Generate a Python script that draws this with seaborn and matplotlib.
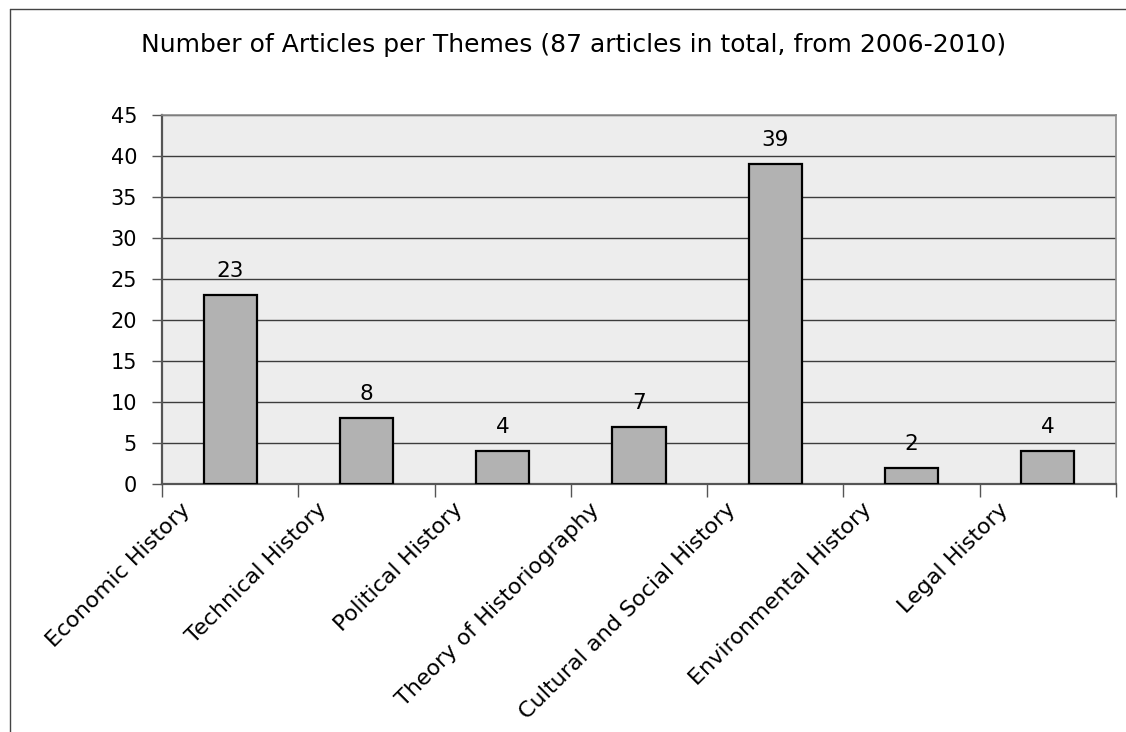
import matplotlib
matplotlib.use("Agg")
import matplotlib.pyplot as plt
from matplotlib.lines import Line2D
from matplotlib.transforms import ScaledTranslation
import seaborn as sns
import pandas as pd

themes = ["Economic History", "Technical History", "Political History",
          "Theory of Historiography", "Cultural and Social History",
          "Environmental History", "Legal History"]
articles = [23, 8, 4, 7, 39, 2, 4]
y_ticks = [0, 5, 10, 15, 20, 25, 30, 35, 40, 45]
title = "Number of Articles per Themes (87 articles in total, from 2006-2010)"

sns.set_theme(style="white")
plt.rcParams["font.family"] = ["DejaVu Sans"]
plt.rcParams["text.color"] = "black"

df = pd.DataFrame({"theme": themes, "articles": articles})

fig = plt.figure(figsize=(11.26, 7.32), dpi=100)
fig.patch.set_facecolor("white")
ax = fig.add_axes([162 / 1126, 1 - 484 / 732, 954 / 1126, 369 / 732])
ax.set_facecolor("#EDEDED")

sns.barplot(data=df, x="theme", y="articles", ax=ax, color="#B2B2B2",
            edgecolor="black", linewidth=1.6, width=0.39, saturation=1,
            zorder=3)

ax.set_ylim(0, 45)
ax.set_xlim(-0.5, len(themes) - 0.5)
ax.set_yticks(y_ticks)
ax.yaxis.grid(True, color="#3C3C3C", linewidth=1.0, zorder=0)
ax.set_axisbelow(True)
ax.set_xlabel("")
ax.set_ylabel("")

# category ticks sit between bars, labels at the bar centres
ax.set_xticks([i - 0.5 for i in range(len(themes) + 1)], minor=False)
ax.set_xticklabels([""] * (len(themes) + 1))
ax.set_xticks(range(len(themes)), minor=True)
ax.set_xticklabels(themes, minor=True, rotation=45, ha="right", va="top",
                   fontsize=16)
ax.tick_params(axis="x", which="major", direction="out", length=9,
               width=1.0, color="#555555", bottom=True)
ax.tick_params(axis="x", which="minor", length=0, pad=11,
               labelcolor="black")
ax.tick_params(axis="y", direction="out", length=7, width=1.0,
               color="#555555", left=True, labelsize=15, pad=11,
               labelcolor="black")

shift = ScaledTranslation(-36 / 100, 0, fig.dpi_scale_trans)
for lbl in ax.xaxis.get_minorticklabels():
    lbl.set_transform(lbl.get_transform() + shift)

for side in ("top", "right"):
    ax.spines[side].set_color("#8C8C8C")
    ax.spines[side].set_linewidth(1.2)
ax.spines["left"].set_color("#555555")
ax.spines["left"].set_linewidth(1.6)
ax.spines["bottom"].set_color("#555555")
ax.spines["bottom"].set_linewidth(1.6)

for i, v in enumerate(articles):
    ax.annotate(str(v), (i, v), xytext=(0, 13), textcoords="offset points",
                ha="center", va="baseline", fontsize=15.5, color="black")

fig.text(574 / 1126, 1 - 52 / 732, title, ha="center", va="baseline",
         fontsize=18, color="black")

# outer chart frame (left and top edges)
fig.add_artist(Line2D([10 / 1126, 10 / 1126], [0, 1 - 9 / 732],
                      transform=fig.transFigure, color="#444444", lw=1.0))
fig.add_artist(Line2D([10 / 1126, 1], [1 - 9 / 732, 1 - 9 / 732],
                      transform=fig.transFigure, color="#444444", lw=1.0))

fig.savefig("out.png", dpi=100)
